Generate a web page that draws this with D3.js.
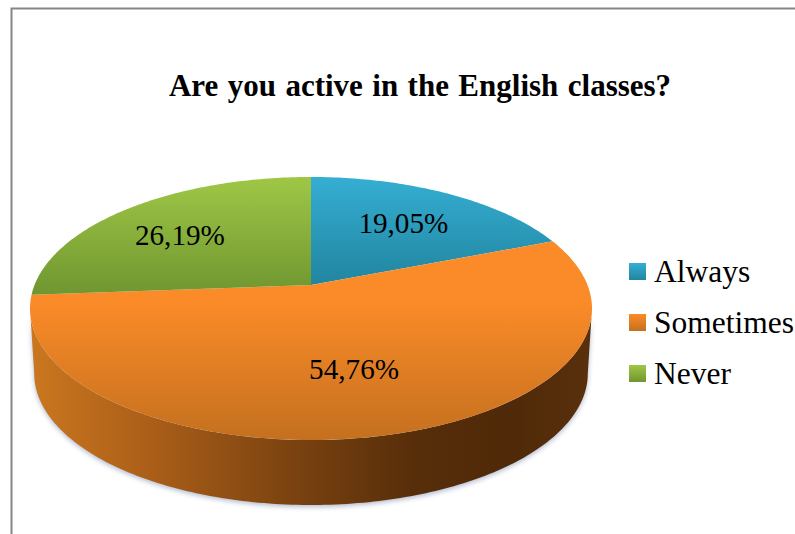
<!DOCTYPE html>
<html>
<head>
<meta charset="utf-8">
<script src="https://cdn.jsdelivr.net/npm/d3@7"></script>
<style>
  html, body { margin: 0; padding: 0; background: #fff; overflow: hidden; }
  svg { display: block; }
  text { font-family: "Liberation Serif", serif; fill: #000; }
</style>
</head>
<body>
<div id="chart"></div>
<script>
var title = 'Are you active in the English classes?';
var categories = ['Always', 'Sometimes', 'Never'];
var values = [19.05, 54.76, 26.19];
var topColors = [
  ['#35aed3', '#21859f'],
  ['#fb8b28', '#c4701f'],
  ['#9fc746', '#6f9630']
];

var W = 795, H = 534;

// perspective tilt of the pie: centre, back and front edge as seen on screen
var cx = 311, yCentre = 285, yBack = 177, yFront = 440, halfWidth = 281, depth = 65;
var persp = (2 * yCentre - yBack - yFront) / (yBack - yFront);
var ya = yBack * (1 + persp) - yCentre;
var xk = halfWidth * Math.sqrt(1 - persp * persp);

function project(angle, r) {
  var u = r * Math.sin(angle), v = r * Math.cos(angle);
  var d = 1 + persp * v;
  return [cx + xk * u / d, (ya * v + yCentre) / d];
}

var svg = d3.select('#chart').append('svg').attr('width', W).attr('height', H);
var defs = svg.append('defs');

function vGradient(id, c0, c1, y0, y1, mid) {
  var g = defs.append('linearGradient').attr('id', id)
    .attr('gradientUnits', 'userSpaceOnUse')
    .attr('x1', 0).attr('x2', 0).attr('y1', y0).attr('y2', y1);
  g.append('stop').attr('offset', mid || 0).attr('stop-color', c0);
  g.append('stop').attr('offset', 1).attr('stop-color', c1);
}

vGradient('slice0', topColors[0][0], topColors[0][1], 177, 285);
vGradient('slice1', topColors[1][0], topColors[1][1], 241, 440, 0.3);
vGradient('slice2', topColors[2][0], topColors[2][1], 177, 295);

var sideGrad = defs.append('linearGradient').attr('id', 'side')
  .attr('gradientUnits', 'userSpaceOnUse')
  .attr('x1', 30).attr('x2', 592).attr('y1', 0).attr('y2', 0);
[[0, '#cb771f'], [0.2, '#ad6019'], [0.48, '#784110'], [0.68, '#582e0a'], [0.85, '#4f2908'], [1, '#5a300c']]
  .forEach(function(s) {
    sideGrad.append('stop').attr('offset', s[0]).attr('stop-color', s[1]);
  });

defs.append('filter').attr('id', 'soft').attr('x', '-5%').attr('y', '-5%').attr('width', '110%').attr('height', '110%')
  .append('feGaussianBlur').attr('stdDeviation', 2.5);

// frame (runs off the right and bottom of the picture)
svg.append('path')
  .attr('d', 'M11.5,' + H + 'V8.5H' + W)
  .attr('fill', 'none').attr('stroke', '#868686').attr('stroke-width', 2);

var pie = d3.pie().sort(null).value(function(d) { return d; });
var arcs = pie(values);
var line = d3.line();

function rim(a0, a1) {
  var n = Math.max(2, Math.ceil((a1 - a0) * 60));
  return d3.range(n + 1).map(function(i) {
    return project(a0 + (a1 - a0) * i / n, 1);
  });
}

// side wall, only the part of the rim that faces us
var wideR = Math.acos(-persp), wideL = 2 * Math.PI - wideR;
var upper = rim(wideR, wideL);
var lower = upper.map(function(p) {
  return [cx + (p[0] - cx) * 0.985, p[1] + depth];
});
var sidePts = upper.concat(lower.slice().reverse());

svg.append('path')
  .attr('d', line(sidePts) + 'Z')
  .attr('transform', 'translate(0,2)')
  .attr('fill', '#7f8db0').attr('opacity', 0.6)
  .attr('filter', 'url(#soft)');

svg.append('path')
  .attr('d', line(sidePts) + 'Z')
  .attr('fill', 'url(#side)');

// top face
svg.selectAll('path.slice').data(arcs).enter().append('path')
  .attr('class', 'slice')
  .attr('fill', function(d) { return 'url(#slice' + d.index + ')'; })
  .attr('d', function(d) {
    return line([project(0, 0)].concat(rim(d.startAngle, d.endAngle))) + 'Z';
  });

// value labels
var labelShift = [[0, 0], [-2, -7], [-9, 2]];
svg.selectAll('text.val').data(arcs).enter().append('text')
  .attr('class', 'val')
  .attr('text-anchor', 'middle')
  .attr('font-size', 29.2)
  .attr('x', function(d) { return project((d.startAngle + d.endAngle) / 2, 0.65)[0] + labelShift[d.index][0]; })
  .attr('y', function(d) { return project((d.startAngle + d.endAngle) / 2, 0.65)[1] + labelShift[d.index][1] + 10; })
  .text(function(d) { return d.value.toFixed(2).replace('.', ',') + '%'; });

// title
svg.append('text')
  .attr('x', 420).attr('y', 96)
  .attr('text-anchor', 'middle')
  .attr('font-size', 31).attr('font-weight', 'bold')
  .attr('word-spacing', 1.7)
  .text(title);

// legend
var legendY = d3.scalePoint().domain(categories).range([263, 365]);
categories.forEach(function(c, i) {
  var y = legendY(c);
  vGradient('key' + i, topColors[i][0], topColors[i][1], y, y + 17);
  svg.append('rect')
    .attr('x', 629).attr('y', y).attr('width', 17).attr('height', 17)
    .attr('fill', 'url(#key' + i + ')');
  svg.append('text')
    .attr('x', 654).attr('y', y + 19)
    .attr('font-size', 31.5)
    .text(c);
});
</script>
</body>
</html>
